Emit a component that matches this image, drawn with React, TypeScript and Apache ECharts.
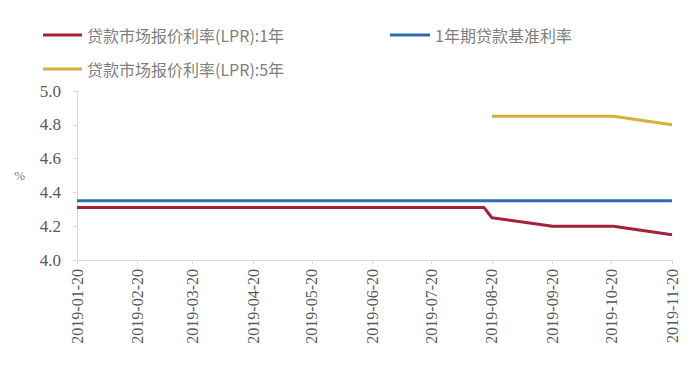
import React, { useEffect, useRef } from "react";
import * as echarts from "echarts";

const dates = [
  "2019-01-20", "2019-02-20", "2019-03-20", "2019-04-20", "2019-05-20",
  "2019-06-20", "2019-07-20", "2019-08-16", "2019-08-20", "2019-09-20",
  "2019-10-21", "2019-11-20",
];
const lpr1y = [4.31, 4.31, 4.31, 4.31, 4.31, 4.31, 4.31, 4.31, 4.25, 4.2, 4.2, 4.15];
const base1y = [4.35, 4.35, 4.35, 4.35, 4.35, 4.35, 4.35, 4.35, 4.35, 4.35, 4.35, 4.35];
const lpr5y = [null, null, null, null, null, null, null, null, 4.85, 4.85, 4.85, 4.8];
const tickDates = [
  "2019-01-20", "2019-02-20", "2019-03-20", "2019-04-20", "2019-05-20",
  "2019-06-20", "2019-07-20", "2019-08-20", "2019-09-20", "2019-10-20", "2019-11-20",
];
const names = ["贷款市场报价利率(LPR):1年", "1年期贷款基准利率", "贷款市场报价利率(LPR):5年"];
const colors = ["#A5213A", "#2F6DB3", "#D3B03C"];

const DAY = 86400000;
const dayNum = (d: string) => {
  const [y, m, dd] = d.split("-").map(Number);
  return Math.round(Date.UTC(y, m - 1, dd) / DAY);
};

export default function App() {
  const ref = useRef<HTMLDivElement>(null);
  useEffect(() => {
    const chart = echarts.init(ref.current!, null, { renderer: "svg" });
    const pair = (vals: (number | null)[]) =>
      dates.map((d, i) => [dayNum(d), vals[i]]).filter((p) => p[1] !== null);
    const tickVals = tickDates.map(dayNum);
    const serif = "serif";
    const legendText = { color: "#7f7f7f", fontSize: 16, fontFamily: "Noto Sans CJK SC" };
    chart.setOption({
      animation: false,
      grid: { left: 77, right: 28, top: 91, bottom: 108 },
      legend: [
        { left: 38, top: 22, data: [names[0]], itemWidth: 39, itemHeight: 3, itemGap: 4, textStyle: legendText, icon: "rect" },
        { left: 385, top: 22, data: [names[1]], itemWidth: 40, itemHeight: 3, textStyle: legendText, icon: "rect" },
        { left: 38, top: 56, data: [names[2]], itemWidth: 39, itemHeight: 3, textStyle: legendText, icon: "rect" },
      ],
      xAxis: {
        type: "value",
        min: tickVals[0],
        max: tickVals[tickVals.length - 1],
        axisLine: { show: true, onZero: false, lineStyle: { color: "#d9d9d9" } },
        axisTick: { show: true, customValues: tickVals, length: 4, lineStyle: { color: "#d9d9d9" } },
        axisLabel: {
          customValues: tickVals,
          rotate: 90,
          color: "#595959",
          fontSize: 16,
          fontFamily: serif,
          margin: 9,
          formatter: (v: number) => {
            const d = new Date(v * DAY);
            const p = (n: number) => String(n).padStart(2, "0");
            return `${d.getUTCFullYear()}-${p(d.getUTCMonth() + 1)}-${p(d.getUTCDate())}`;
          },
        },
        splitLine: { show: false },
      },
      yAxis: {
        type: "value",
        min: 4,
        max: 5,
        interval: 0.2,
        name: "%",
        nameLocation: "middle",
        nameRotate: 0,
        nameGap: 52,
        nameTextStyle: { color: "#7f7f7f", fontSize: 13, fontFamily: serif },
        axisLine: { show: true, lineStyle: { color: "#d9d9d9" } },
        axisTick: { show: true, length: 4, lineStyle: { color: "#d9d9d9" } },
        axisLabel: {
          color: "#595959",
          fontSize: 17,
          fontFamily: serif,
          margin: 16,
          formatter: (v: number) => v.toFixed(1),
        },
        splitLine: { show: false },
      },
      series: [
        { name: names[0], type: "line", data: pair(lpr1y), showSymbol: false, lineStyle: { width: 3, color: colors[0] }, itemStyle: { color: colors[0] } },
        { name: names[1], type: "line", data: pair(base1y), showSymbol: false, lineStyle: { width: 3, color: colors[1] }, itemStyle: { color: colors[1] } },
        { name: names[2], type: "line", data: pair(lpr5y), showSymbol: false, lineStyle: { width: 3, color: colors[2] }, itemStyle: { color: colors[2] } },
      ],
    });
    return () => chart.dispose();
  }, []);
  return <div ref={ref} style={{ width: 700, height: 368, position: "absolute", left: 0, top: 0 }} />;
}
